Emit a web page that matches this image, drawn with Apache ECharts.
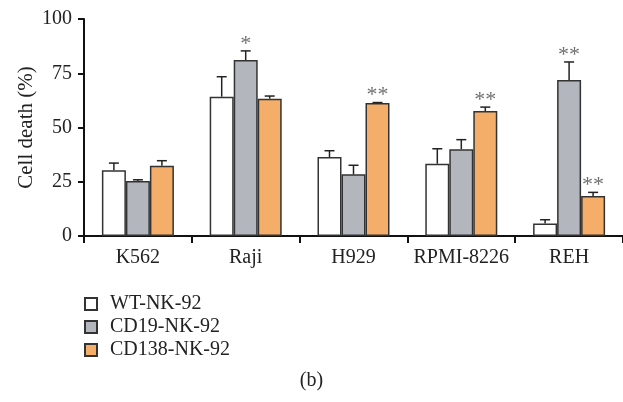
<!DOCTYPE html>
<html>
<head>
<meta charset="utf-8">
<script src="https://cdn.jsdelivr.net/npm/echarts@6/dist/echarts.min.js"></script>
<style>
  html, body { margin: 0; padding: 0; background: #fff; }
  #chart { width: 623px; height: 402px; }
</style>
</head>
<body>
<div id="chart"></div>
<script>
// 数据
var categories = ['K562', 'Raji', 'H929', 'RPMI-8226', 'REH'];
var seriesNames = ['WT-NK-92', 'CD19-NK-92', 'CD138-NK-92'];
var wtValues = [30.3, 64.2, 36.4, 33.3, 5.8];
var wtErrTop = [33.6, 73.4, 39.3, 40.2, 7.5];
var cd19Values = [25.3, 81.1, 28.4, 40.0, 71.9];
var cd19ErrTop = [25.9, 85.3, 32.6, 44.4, 80.2];
var cd138Values = [32.4, 63.3, 61.3, 57.6, 18.4];
var cd138ErrTop = [34.7, 64.5, 61.5, 59.4, 20.1];
var wtStars = ['', '', '', '', ''];
var cd19Stars = ['', '*', '', '', '**'];
var cd138Stars = ['', '', '**', '**', '**'];
var yTicks = [0, 25, 50, 75, 100];

var font = '"Liberation Serif", "DejaVu Serif", serif';
var colors = ['#ffffff', '#b4b6bd', '#f5ae69'];
var barW = 24;

var chart = echarts.init(document.getElementById('chart'));

function errSeries(idx, values, tops, stars) {
  var data = values.map(function (v, i) { return [i, v, tops[i], stars[i]]; });
  return {
    type: 'custom',
    z: 5,
    silent: true,
    data: data,
    renderItem: function (params, api) {
      var p0 = api.coord([api.value(0), api.value(1)]);
      var p1 = api.coord([api.value(0), api.value(2)]);
      var x = p0[0] + (idx - 1) * barW;
      var star = data[params.dataIndex][3];
      var children = [
        { type: 'line', shape: { x1: x, y1: p0[1], x2: x, y2: p1[1] }, style: { stroke: '#222', lineWidth: 1.5 } },
        { type: 'line', shape: { x1: x - 5, y1: p1[1], x2: x + 5, y2: p1[1] }, style: { stroke: '#222', lineWidth: 1.5 } }
      ];
      if (star) {
        children.push({
          type: 'text',
          style: { text: star, x: x, y: p1[1] + 4, align: 'center', verticalAlign: 'bottom',
                   fill: '#707070', font: '22px ' + font }
        });
      }
      return { type: 'group', children: children };
    }
  };
}

function barSeries(idx, values) {
  return {
    name: seriesNames[idx],
    type: 'bar',
    data: values,
    barWidth: barW,
    barGap: '0%',
    itemStyle: { color: colors[idx], borderColor: '#333', borderWidth: 1.5 }
  };
}

chart.setOption({
  animation: false,
  title: {
    text: '(b)',
    left: 'center',
    top: 366,
    textStyle: { fontFamily: font, fontSize: 20, fontWeight: 'normal', color: '#222' }
  },
  legend: {
    orient: 'vertical',
    left: 79,
    top: 289,
    itemWidth: 12,
    itemHeight: 12,
    itemGap: 3,
    icon: 'rect',
    data: seriesNames,
    textStyle: { fontFamily: font, fontSize: 20, color: '#222', padding: [0, 0, 0, 8] }
  },
  grid: { left: 84, top: 19, right: -10, height: 217 },
  xAxis: {
    type: 'category',
    data: categories,
    axisLine: { lineStyle: { color: '#111', width: 2 } },
    axisTick: { show: true, length: 7, lineStyle: { color: '#111', width: 2 } },
    axisLabel: { interval: 0, fontFamily: font, fontSize: 20, color: '#222', margin: 12 }
  },
  yAxis: {
    type: 'value',
    min: yTicks[0],
    max: yTicks[yTicks.length - 1],
    interval: 25,
    name: 'Cell death (%)',
    nameLocation: 'middle',
    nameGap: 47,
    nameMoveOverlap: false,
    nameTextStyle: { fontFamily: font, fontSize: 21, color: '#222' },
    axisLine: { show: true, lineStyle: { color: '#111', width: 2 } },
    axisTick: { show: true, length: 6, lineStyle: { color: '#111', width: 2 } },
    splitLine: { show: false },
    axisLabel: { fontFamily: font, fontSize: 20, color: '#222', margin: 12 }
  },
  series: [
    barSeries(0, wtValues),
    barSeries(1, cd19Values),
    barSeries(2, cd138Values),
    errSeries(0, wtValues, wtErrTop, wtStars),
    errSeries(1, cd19Values, cd19ErrTop, cd19Stars),
    errSeries(2, cd138Values, cd138ErrTop, cd138Stars)
  ]
});
</script>
</body>
</html>
